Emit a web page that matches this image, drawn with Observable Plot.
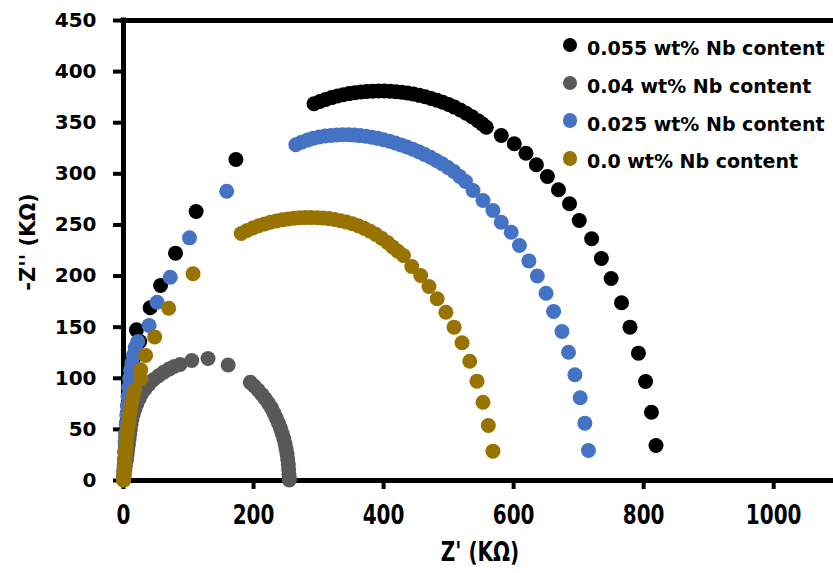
<!DOCTYPE html>
<html>
<head>
<meta charset="utf-8">
<script src="https://cdn.jsdelivr.net/npm/d3@7"></script>
<script src="https://cdn.jsdelivr.net/npm/@observablehq/plot@0.6"></script>
<style>
  html, body { margin: 0; padding: 0; background: #fff; }
  #wrap { position: relative; width: 833px; height: 573px; overflow: hidden; }
  .lg-dot { position: absolute; width: 14.5px; height: 14.5px; border-radius: 50%; }
  .lg-txt { position: absolute; font-family: "DejaVu Sans", sans-serif; font-weight: bold; font-size: 19px; line-height: 19px; color: #000; white-space: nowrap; }
</style>
</head>
<body>
<div id="wrap"></div>
<script>
// ---- Data ----
const xTicks = [0, 200, 400, 600, 800, 1000];
const yTicks = [0, 50, 100, 150, 200, 250, 300, 350, 400, 450];

const seriesNames = ["0.055 wt% Nb content", "0.04 wt% Nb content", "0.025 wt% Nb content", "0.0 wt% Nb content"];
const seriesColors = ["#000000", "#595959", "#4472C4", "#997300"];

// 0.055 wt% Nb
const s055X = [0.1, 0.3, 0.7, 1.2, 1.8, 2.4, 3, 3.7, 4.4, 5.2, 6, 7, 8, 9, 10, 11.5, 13, 15, 17.3, 25, 20, 41, 57, 80, 111.7, 172.9,
  293, 302, 311, 320, 329, 338, 347, 356, 365, 374, 383, 392, 401, 410, 419, 428, 437, 446, 455, 464, 473, 482, 491, 500, 509, 518, 527, 536, 545, 552,
  558, 581, 601, 619, 635, 652, 669, 686, 701, 720, 735, 750, 766, 779, 792, 803, 812, 819];
const s055Y = [1, 4, 9, 15, 21, 28, 35, 42, 50, 58, 66, 74, 82, 90, 98, 106, 113, 119, 124, 136, 147.4, 169, 190.8, 222.4, 263.2, 314,
  368.5, 370.8, 372.8, 374.6, 376.1, 377.4, 378.5, 379.4, 380.1, 380.6, 380.9, 381, 381, 380.8, 380.4, 379.8, 379, 378, 376.8, 375.4, 373.8, 372, 370, 367.8, 365.3, 362.5, 359.3, 355.8, 352, 348.8,
  345.6, 337.5, 329.4, 320.2, 308.9, 297.4, 284.4, 270.7, 254.4, 236.5, 217.2, 197.6, 173.9, 150, 124.6, 96.9, 66.8, 34.2];

// 0.04 wt% Nb
const s04X = [0.3, 1, 2, 3, 4.5, 5.5, 6.5, 7.5, 8.5, 9.5, 10.5, 11.5, 13, 15, 17.5, 20.5, 24, 28, 33, 39, 46, 54, 62, 70, 78, 87, 105, 130, 161,
  195, 201, 207, 213, 218, 223, 227.5, 231.5, 235, 238.5, 241.5, 244, 246.5, 248.5, 250, 251.5, 252.5, 253.5, 254, 254.5, 255, 255];
const s04Y = [0.5, 5, 10, 15, 20, 25, 30, 35, 40, 45, 50, 55, 60, 65, 70, 75, 80, 85, 89.5, 94, 98.5, 102.5, 106, 109, 111.5, 113.5, 117.4, 119.4, 113,
  96, 92.5, 88.5, 84, 80, 75.5, 71, 66, 61, 56, 51, 46, 41, 36, 31, 26, 21, 16, 11, 6, 2, 0.5];

// 0.025 wt% Nb
const s025X = [0.1, 0.3, 0.7, 1.2, 1.8, 2.5, 3.2, 4, 5, 6, 7, 8, 9.5, 11, 13, 15, 18, 22, 39.3, 51.6, 71.9, 101.5, 158.7,
  265, 274, 283, 292, 301, 310, 319, 328, 337, 346, 355, 364, 373, 382, 391, 400, 409, 418, 427, 436, 445, 454, 463, 472, 481, 490, 499, 508, 517, 526,
  537.6, 552.9, 568.2, 581, 596.3, 609, 623.5, 636.5, 649.9, 661.5, 674.4, 684.5, 694.3, 702.4, 709.6, 715.1];
const s025Y = [1, 5, 12, 20, 28, 37, 46, 55, 64, 73, 82, 91, 100, 108, 115, 122, 130, 136, 151.6, 174.4, 198.9, 237.4, 283,
  328.5, 331, 333, 334.8, 336, 337, 337.6, 338, 338.2, 338.2, 337.9, 337.4, 336.7, 335.8, 334.7, 333.4, 331.9, 330.2, 328.3, 326.3, 324.1, 321.7, 319, 316.2, 313.1, 309.8, 306.2, 302.4, 297.5, 292.5,
  283.7, 273.9, 264.1, 252.7, 242.9, 229.9, 214.8, 200, 183.2, 165.3, 145.8, 125.5, 103.4, 80.9, 56.1, 29.3];

// 0.0 wt% Nb
const s00X = [0, 0.3, 0.6, 1, 1.5, 2, 2.6, 3.2, 3.9, 4.6, 5.4, 6.3, 7.3, 8.4, 9.6, 10.9, 12.3, 13.8, 15.5, 17.3, 26.5, 26.5, 34, 48, 69.5, 107,
  181, 190, 199, 208, 217, 226, 235, 244, 253, 262, 271, 280, 289, 298, 307, 316, 325, 334, 343, 352, 361, 370, 379, 388, 397, 406, 414, 422,
  430.5, 443.3, 457.1, 469.8, 482.5, 495.8, 508.5, 520.7, 532.5, 543.7, 552.9, 561.1, 568.2];
const s00Y = [0.5, 3, 6, 10, 15, 20, 25, 30, 35, 40, 45, 50, 55, 60, 65, 70, 75, 80, 85, 88, 99.5, 108.3, 122.3, 140.5, 168.5, 202.2,
  241.6, 244.5, 247, 249.2, 251, 252.6, 253.9, 255, 255.9, 256.5, 257, 257.2, 257.3, 257.1, 256.8, 256.2, 255.3, 254.2, 252.8, 251.2, 249.2, 246.8, 244, 240.8, 237, 232.8, 228.5, 224.3,
  220.1, 209.4, 200.5, 189.8, 177.8, 164.6, 150, 134.7, 116.7, 97.2, 76.6, 53.8, 28.7];

// ---- Build ----
const allX = [s055X, s04X, s025X, s00X];
const allY = [s055Y, s04Y, s025Y, s00Y];
const tables = allX.map((xs, k) => xs.map((x, i) => ({x, y: allY[k][i]})));

const fmt = d => String(d);

const chart = Plot.plot({
  width: 833,
  height: 573,
  marginLeft: 123,
  marginRight: 0,
  marginTop: 20,
  marginBottom: 93,
  x: {domain: [0, 1092]},
  y: {domain: [0, 450]},
  style: {fontFamily: "DejaVu Sans, sans-serif", fontWeight: "bold", fontSize: "20px", color: "#000", background: "#fff", overflow: "visible"},
  marks: [
    Plot.axisY(yTicks, {tickSize: 10, tickPadding: 17, strokeWidth: 4, label: null, tickFormat: fmt, fontSize: 20, fontWeight: "bold"}),
    Plot.axisX(xTicks, {tickSize: 9, tickPadding: 16, strokeWidth: 4, label: null, tickFormat: fmt, fontSize: 20, fontWeight: "bold"}),
    Plot.ruleY([0, 450], {strokeWidth: 5, strokeLinecap: "square"}),
    Plot.ruleX([0], {strokeWidth: 5, strokeLinecap: "square"}),
    ...tables.map((t, k) => Plot.dot(t, {x: "x", y: "y", r: 7.5, fill: seriesColors[k], stroke: "none"}))
  ]
});

document.getElementById("wrap").appendChild(chart);

// Stretch x tick labels vertically to match reference proportions
const svg = d3.select(chart);
svg.selectAll('[aria-label="x-axis tick label"] text').each(function() {
  const el = this;
  const x = parseFloat(el.getAttribute("x")) || 0;
  const y = parseFloat(el.getAttribute("y")) || 0;
  const t = el.getAttribute("transform") || "";
  el.setAttribute("transform", `${t} translate(${x},${y}) scale(1,1.3) translate(${-x},${-y})`);
});

// Axis titles
svg.append("text")
  .attr("text-anchor", "middle")
  .attr("transform", "translate(480,552) scale(1,1.3)")
  .attr("dy", "0.35em")
  .style("font-family", "DejaVu Sans, sans-serif")
  .style("font-weight", "bold")
  .style("font-size", "20px")
  .text("Z' (KΩ)");

svg.append("text")
  .attr("text-anchor", "middle")
  .attr("transform", "translate(28,242) rotate(-90)")
  .attr("dy", "0.35em")
  .style("font-family", "DejaVu Sans, sans-serif")
  .style("font-weight", "bold")
  .style("font-size", "21px")
  .text("-Z'' (KΩ)");

// Legend (HTML overlay, top right inside plot)
const wrap = document.getElementById("wrap");
const baselines = [55, 92.8, 130.6, 168.4];
seriesNames.forEach((name, k) => {
  const dot = document.createElement("div");
  dot.className = "lg-dot";
  dot.style.background = seriesColors[k];
  dot.style.left = (570 - 7.25) + "px";
  dot.style.top = (baselines[k] - 10 - 7.25) + "px";
  wrap.appendChild(dot);
  const txt = document.createElement("div");
  txt.className = "lg-txt";
  txt.style.left = "587px";
  txt.style.top = (baselines[k] - 16) + "px";
  txt.textContent = name;
  wrap.appendChild(txt);
});
</script>
</body>
</html>
